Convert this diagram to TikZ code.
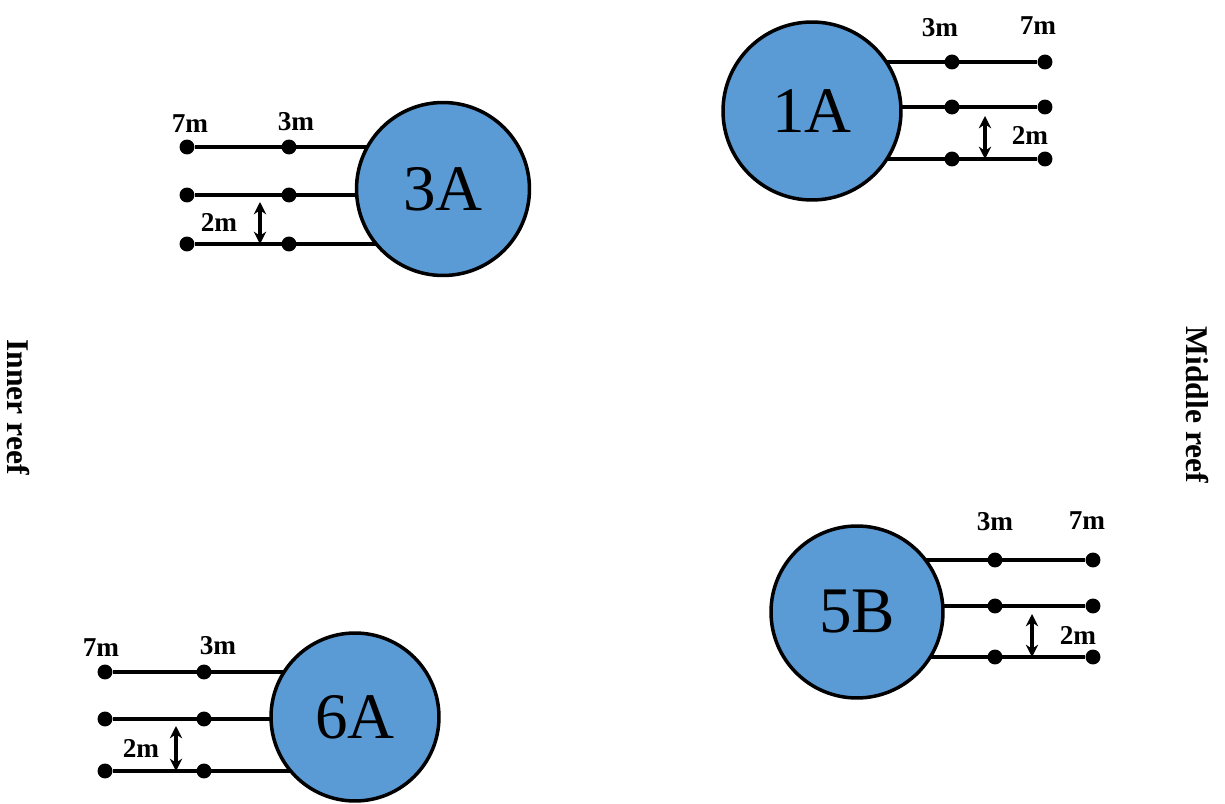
\documentclass[tikz,border=0pt]{standalone}
\usepackage{fontspec}
\setmainfont{Liberation Serif}
\usetikzlibrary{arrows.meta,backgrounds}
\definecolor{reefblue}{RGB}{91,155,213}
\begin{document}
\begin{tikzpicture}[x=0.02cm,y=-0.02cm,
  site/.style={circle,draw=black,line width=2pt,fill=reefblue,inner sep=0pt,font=\fontsize{37}{37}\selectfont},
  dot/.style={circle,fill=black,inner sep=0pt,minimum size=8.5pt},
  tline/.style={line width=2.2pt},
  dist/.style={font=\bfseries\fontsize{15.5}{15.5}\selectfont},
  gap/.style={{Stealth[length=7pt,width=7pt]}-{Stealth[length=7pt,width=7pt]},line width=1.8pt},
  side/.style={font=\bfseries\fontsize{18}{18}\selectfont,rotate=-90}]
\useasboundingbox (0,0) rectangle (1225,804);

% ---- 1A ----
\node[site,minimum size=3.56cm] (c1A) at (812,111) {1A};
\node[dot] (p1a) at (952,62) {};
\node[dot] (p1b) at (952,107) {};
\node[dot] (p1c) at (952,159) {};
\node[dot] (q1a) at (1045,62) {};
\node[dot] (q1b) at (1045,107) {};
\node[dot] (q1c) at (1045,159) {};
\node[dist] (l1a) at (940,28) {3m};
\node[dist] (l1b) at (1038,26) {7m};
\node[dist] (l1c) at (1030,135) {2m};
\coordinate (g1) at (985,116);
\draw[gap] (g1) -- (g1 |- p1c);

% ---- 3A ----
\node[site,minimum size=3.46cm] (c3A) at (443,189) {3A};
\node[dot] (p3a) at (289,147) {};
\node[dot] (p3b) at (289,195) {};
\node[dot] (p3c) at (289,244) {};
\node[dot] (q3a) at (187,147) {};
\node[dot] (q3b) at (187,195) {};
\node[dot] (q3c) at (187,244) {};
\node[dist] (l3a) at (296,122) {3m};
\node[dist] (l3b) at (190,124) {7m};
\node[dist] (l3c) at (219,222) {2m};
\coordinate (g3) at (260,202);
\draw[gap] (g3) -- (g3 |- p3c);

% ---- 5B ----
\node[site,minimum size=3.44cm] (c5B) at (857,612) {5B};
\node[dot] (p5a) at (995,560) {};
\node[dot] (p5b) at (995,606) {};
\node[dot] (p5c) at (995,657) {};
\node[dot] (q5a) at (1093,560) {};
\node[dot] (q5b) at (1093,606) {};
\node[dot] (q5c) at (1093,657) {};
\node[dist] (l5a) at (995,522) {3m};
\node[dist] (l5b) at (1087,521) {7m};
\node[dist] (l5c) at (1078,635) {2m};
\coordinate (g5) at (1032,614);
\draw[gap] (g5) -- (g5 |- p5c);

% ---- 6A ----
\node[site,minimum size=3.36cm] (c6A) at (355,717) {6A};
\node[dot] (p6a) at (204,672) {};
\node[dot] (p6b) at (204,719) {};
\node[dot] (p6c) at (204,771) {};
\node[dot] (q6a) at (105,672) {};
\node[dot] (q6b) at (105,719) {};
\node[dot] (q6c) at (105,771) {};
\node[dist] (l6a) at (218,646) {3m};
\node[dist] (l6b) at (101,648) {7m};
\node[dist] (l6c) at (141,748) {2m};
\coordinate (g6) at (176,726);
\draw[gap] (g6) -- (g6 |- p6c);

% ---- transect lines (behind circles) ----
\begin{scope}[on background layer]
\foreach \c/\t in {c1A/1,c5B/5,c3A/3,c6A/6}{
  \foreach \r in {a,b,c}{
    \draw[tline] (\c.center |- q\t\r) -- (q\t\r);
  }
}
\end{scope}

% ---- side labels ----
\node[side] (inner) at (18,407) {Inner reef};
\node[side] (middle) at (1197,405) {Middle reef};
\end{tikzpicture}
\end{document}
